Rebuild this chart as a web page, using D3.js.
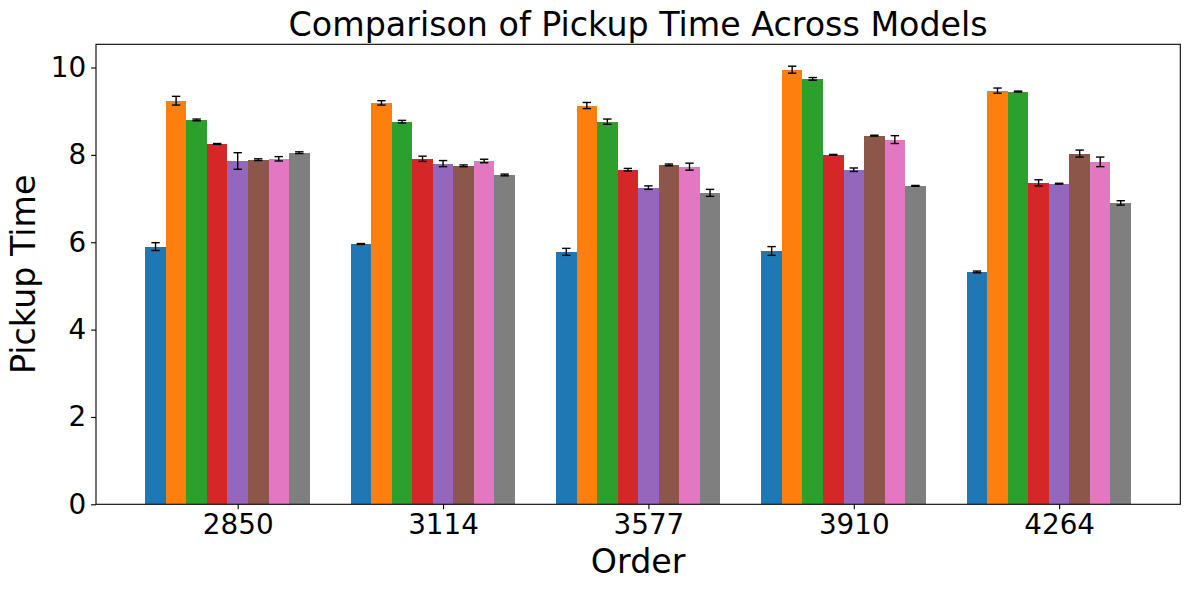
<!DOCTYPE html>
<html>
<head>
<meta charset="utf-8">
<script src="https://cdn.jsdelivr.net/npm/d3@7"></script>
<style>
  body { margin: 0; background: #fff; }
  svg { display: block; font-family: "DejaVu Sans", sans-serif; }
</style>
</head>
<body>
<svg id="chart" width="1189" height="590"></svg>
<script>
const orders = ["2850", "3114", "3577", "3910", "4264"];
const models = ["Model 1", "Model 2", "Model 3", "Model 4", "Model 5", "Model 6", "Model 7", "Model 8"];
const colors = ["#1f77b4", "#ff7f0e", "#2ca02c", "#d62728", "#9467bd", "#8c564b", "#e377c2", "#7f7f7f"];

const model1 = [5.90, 5.96, 5.78, 5.80, 5.32];
const model2 = [9.24, 9.19, 9.13, 9.95, 9.47];
const model3 = [8.80, 8.76, 8.76, 9.74, 9.45];
const model4 = [8.25, 7.91, 7.66, 8.00, 7.36];
const model5 = [7.86, 7.80, 7.25, 7.66, 7.34];
const model6 = [7.89, 7.75, 7.77, 8.44, 8.03];
const model7 = [7.91, 7.86, 7.73, 8.35, 7.84];
const model8 = [8.05, 7.54, 7.13, 7.29, 6.90];

const err1 = [0.09, 0.01, 0.08, 0.10, 0.02];
const err2 = [0.10, 0.05, 0.07, 0.08, 0.06];
const err3 = [0.02, 0.03, 0.06, 0.03, 0.01];
const err4 = [0.01, 0.06, 0.03, 0.01, 0.07];
const err5 = [0.19, 0.07, 0.04, 0.04, 0.01];
const err6 = [0.02, 0.02, 0.02, 0.01, 0.08];
const err7 = [0.05, 0.04, 0.08, 0.09, 0.11];
const err8 = [0.02, 0.02, 0.08, 0.01, 0.05];

const yTicks = [0, 2, 4, 6, 8, 10];

const values = [model1, model2, model3, model4, model5, model6, model7, model8];
const errors = [err1, err2, err3, err4, err5, err6, err7, err8];
const barW = 0.1;

const data = [];
values.forEach((vals, m) => {
  vals.forEach((v, g) => {
    data.push({ m, g, v, e: errors[m][g] });
  });
});

const svg = d3.select("#chart");
const L = 96, R = 1180.3, T = 44.3, B = 504.3;

const nBars = models.length;
const xMin = -barW / 2, xMax = (orders.length - 1) + (nBars - 1) * barW + barW / 2;
const pad = (xMax - xMin) * 0.05;
const x = d3.scaleLinear().domain([xMin - pad, xMax + pad]).range([L, R]);

const yTop = d3.max(data, d => d.v + d.e) * 1.05;
const y = d3.scaleLinear().domain([0, yTop]).range([B, T]);

// bars
svg.append("g").attr("shape-rendering", "crispEdges").selectAll("rect").data(data).join("rect")
  .attr("x", d => x(d.g + d.m * barW - barW / 2))
  .attr("width", d => x(d.g + d.m * barW + barW / 2) - x(d.g + d.m * barW - barW / 2))
  .attr("y", d => y(d.v))
  .attr("height", d => y(0) - y(d.v))
  .attr("fill", d => colors[d.m]);

// error bars
const eg = svg.append("g").attr("stroke", "#000").attr("stroke-width", 1.4).attr("fill", "none");
data.forEach(d => {
  const cx = x(d.g + d.m * barW);
  eg.append("line").attr("x1", cx).attr("x2", cx).attr("y1", y(d.v - d.e)).attr("y2", y(d.v + d.e));
  eg.append("line").attr("x1", cx - 4.2).attr("x2", cx + 4.2).attr("y1", y(d.v - d.e)).attr("y2", y(d.v - d.e));
  eg.append("line").attr("x1", cx - 4.2).attr("x2", cx + 4.2).attr("y1", y(d.v + d.e)).attr("y2", y(d.v + d.e));
});

// axes
const xAxis = d3.axisBottom(x)
  .tickValues(orders.map((o, i) => i + 4 * barW))
  .tickFormat((d, i) => orders[i])
  .tickSize(4.9).tickPadding(4.9);
const gx = svg.append("g").attr("transform", `translate(0,${B})`).call(xAxis);
gx.select(".domain").remove();
gx.selectAll("line").attr("stroke", "#000").attr("stroke-width", 1.1);
gx.selectAll("text").attr("font-size", "27.8px").attr("fill", "#000")
  .attr("font-family", "DejaVu Sans");

const yAxis = d3.axisLeft(y).tickValues(yTicks).tickFormat(d3.format("d"))
  .tickSize(4.9).tickPadding(4.9);
const gy = svg.append("g").attr("transform", `translate(${L},0)`).call(yAxis);
gy.select(".domain").remove();
gy.selectAll("line").attr("stroke", "#000").attr("stroke-width", 1.1);
gy.selectAll("text").attr("font-size", "27.8px").attr("fill", "#000")
  .attr("font-family", "DejaVu Sans");

// frame
svg.append("rect").attr("x", L).attr("y", T).attr("width", R - L).attr("height", B - T)
  .attr("fill", "none").attr("stroke", "#000").attr("stroke-width", 1.1);

// title and labels
svg.append("text").attr("x", (L + R) / 2).attr("y", 36)
  .attr("text-anchor", "middle").attr("font-size", "33.3px").attr("fill", "#000")
  .text("Comparison of Pickup Time Across Models");

svg.append("text").attr("x", (L + R) / 2).attr("y", 573)
  .attr("text-anchor", "middle").attr("font-size", "33.3px").attr("fill", "#000")
  .text("Order");

svg.append("text").attr("transform", `translate(35,${(T + B) / 2}) rotate(-90)`)
  .attr("text-anchor", "middle").attr("font-size", "33.3px").attr("fill", "#000")
  .text("Pickup Time");
</script>
</body>
</html>
